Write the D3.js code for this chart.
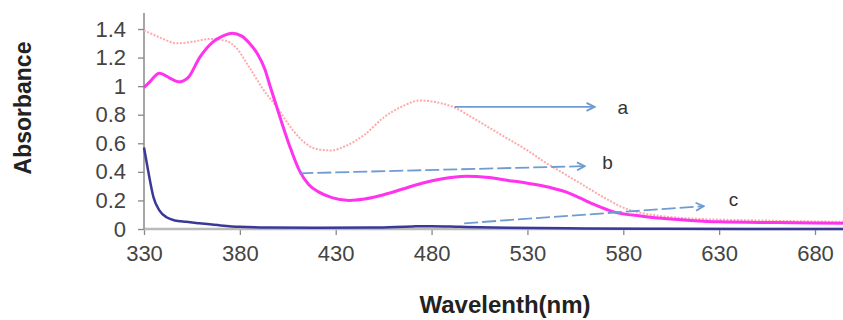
<!DOCTYPE html>
<html>
<head>
<meta charset="utf-8">
<script src="https://cdn.jsdelivr.net/npm/d3@7"></script>
<style>
  body { margin: 0; background: #fff; }
  svg { display: block; font-family: "Liberation Sans", Arial, sans-serif; }
</style>
</head>
<body>
<div id="viz"></div>
<script>
// spectrum a (dotted, light pink)
var nmA = [330, 335, 340, 347, 355, 364, 372, 378, 385, 392, 400, 405, 411, 420, 428, 435, 445, 455, 465, 474, 485, 492, 500, 510, 520, 530, 540, 550, 560, 570, 580, 590, 600, 620, 650, 695]
var absA = [1.39, 1.36, 1.33, 1.30, 1.31, 1.33, 1.32, 1.27, 1.13, 0.98, 0.84, 0.74, 0.64, 0.56, 0.55, 0.58, 0.66, 0.78, 0.86, 0.90, 0.88, 0.85, 0.79, 0.71, 0.63, 0.55, 0.46, 0.38, 0.30, 0.22, 0.15, 0.11, 0.09, 0.07, 0.06, 0.05]

// spectrum b (magenta)
var nmB = [330, 333, 338, 343, 348, 353, 359, 366, 371, 376, 381, 385, 389, 393, 396, 401, 406, 411, 416, 421, 428, 437, 445, 455, 465, 475, 485, 498, 510, 520, 530, 542, 550, 557, 565, 575, 590, 600, 615, 630, 660, 695]
var absB = [0.99, 1.03, 1.09, 1.06, 1.03, 1.06, 1.20, 1.31, 1.35, 1.37, 1.35, 1.30, 1.23, 1.12, 0.99, 0.78, 0.58, 0.41, 0.31, 0.26, 0.22, 0.20, 0.21, 0.24, 0.28, 0.32, 0.35, 0.37, 0.36, 0.34, 0.32, 0.29, 0.26, 0.22, 0.17, 0.12, 0.09, 0.075, 0.06, 0.05, 0.045, 0.04]

// spectrum c (navy)
var nmC = [330, 332, 335, 338, 342, 346, 352, 359, 370, 380, 395, 420, 450, 470, 480, 495, 520, 560, 600, 695]
var absC = [0.57, 0.42, 0.22, 0.13, 0.08, 0.06, 0.05, 0.04, 0.025, 0.015, 0.01, 0.008, 0.01, 0.018, 0.02, 0.015, 0.008, 0.004, 0.002, 0.0]

var xTicks = [330, 380, 430, 480, 530, 580, 630, 680]
var yTicks = [0, 0.2, 0.4, 0.6, 0.8, 1, 1.2, 1.4]

// annotation arrows, in data units
var arrowLabels = ["a", "b", "c"]
var arrowFrom = [[492, 0.855], [411, 0.39], [497, 0.04]]
var arrowTo = [[565, 0.855], [560, 0.44], [622, 0.16]]
var labelAt = [[577, 0.85], [569, 0.47], [635, 0.21]]

const width = 843
const height = 320

const x = d3.scaleLinear().domain([330, 680]).range([144, 815])
const y = d3.scaleLinear().domain([0, 1.4]).range([229, 29])

const svg = d3.select("#viz")
    .append("svg")
    .attr("width", width)
    .attr("height", height)

svg.append("defs").append("marker")
    .attr("id", "head")
    .attr("viewBox", "0 0 10 10")
    .attr("refX", 9)
    .attr("refY", 5)
    .attr("markerWidth", 10)
    .attr("markerHeight", 10)
    .attr("markerUnits", "userSpaceOnUse")
    .attr("orient", "auto")
    .append("path")
    .attr("d", "M1,1 L9,5 L1,9")
    .attr("fill", "none")
    .attr("stroke", "#6f9bd3")
    .attr("stroke-width", 1.8)

// x axis
const xAxis = svg.append("g")
    .attr("transform", "translate(0," + y(0) + ")")
    .call(d3.axisBottom(x).tickValues(xTicks).tickSize(6).tickSizeOuter(0).tickPadding(10))
xAxis.select(".domain").remove()
xAxis.append("line")
    .attr("x1", x(330)).attr("x2", width)
    .attr("stroke", "#bbb").attr("stroke-width", 2.5)
xAxis.selectAll(".tick line").attr("stroke", "#888").attr("stroke-width", 1.3)
xAxis.selectAll(".tick text")
    .attr("font-size", 22)
    .attr("fill", "#444")
    .style("font-family", "Liberation Sans, Arial, sans-serif")

// y axis
const yAxis = svg.append("g")
    .attr("transform", "translate(" + x(330) + ",0)")
    .call(d3.axisLeft(y).tickValues(yTicks).tickSize(6).tickSizeOuter(0).tickPadding(12)
        .tickFormat(d => d3.format("")(+d.toFixed(1))))
yAxis.select(".domain").remove()
yAxis.append("line")
    .attr("y1", 13).attr("y2", y(0))
    .attr("stroke", "#888").attr("stroke-width", 1.5)
yAxis.selectAll(".tick line").attr("stroke", "#888").attr("stroke-width", 1.3)
yAxis.selectAll(".tick text")
    .attr("font-size", 22)
    .attr("fill", "#444")
    .style("font-family", "Liberation Sans, Arial, sans-serif")

const line = d3.line()
    .x(d => x(d[0]))
    .y(d => y(d[1]))
    .curve(d3.curveMonotoneX)

// curve a
svg.append("path")
    .datum(d3.zip(nmA, absA))
    .attr("d", line)
    .attr("fill", "none")
    .attr("stroke", "#ffaaaa")
    .attr("stroke-width", 2)
    .attr("stroke-dasharray", "2,1.5")

// curve c
svg.append("path")
    .datum(d3.zip(nmC, absC))
    .attr("d", line)
    .attr("fill", "none")
    .attr("stroke", "#3a3a96")
    .attr("stroke-width", 2.5)

// curve b
svg.append("path")
    .datum(d3.zip(nmB, absB))
    .attr("d", line)
    .attr("fill", "none")
    .attr("stroke", "#ff33ee")
    .attr("stroke-width", 3)

// arrows
arrowLabels.forEach(function (lab, i) {
    svg.append("line")
        .attr("x1", x(arrowFrom[i][0])).attr("y1", y(arrowFrom[i][1]))
        .attr("x2", x(arrowTo[i][0])).attr("y2", y(arrowTo[i][1]))
        .attr("stroke", "#6f9bd3")
        .attr("stroke-width", 1.8)
        .attr("stroke-dasharray", i == 0 ? null : "14,4")
        .attr("marker-end", "url(#head)")

    svg.append("text")
        .attr("x", x(labelAt[i][0]))
        .attr("y", y(labelAt[i][1]))
        .attr("dy", "0.35em")
        .attr("font-size", 19)
        .attr("fill", "#333")
        .text(lab)
})

// axis titles
svg.append("text")
    .attr("transform", "translate(31,108) rotate(-90)")
    .attr("text-anchor", "middle")
    .attr("font-size", 23)
    .attr("font-weight", "bold")
    .attr("fill", "#222")
    .text("Absorbance")

svg.append("text")
    .attr("x", 505)
    .attr("y", 313)
    .attr("text-anchor", "middle")
    .attr("font-size", 24)
    .attr("font-weight", "bold")
    .attr("fill", "#222")
    .text("Wavelenth(nm)")
</script>
</body>
</html>
